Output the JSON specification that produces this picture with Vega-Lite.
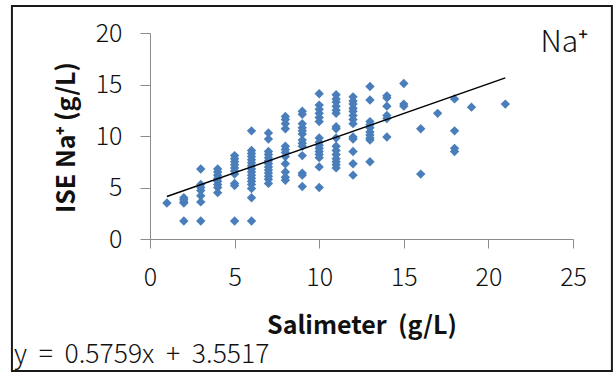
{
  "$schema": "https://vega.github.io/schema/vega-lite/v6.json",
  "width": 423,
  "height": 206,
  "autosize": {"type": "none"},
  "padding": {"left": 150, "top": 33, "right": 42, "bottom": 135},
  "background": "white",
  "config": {
    "view": {"stroke": null},
    "axis": {"grid": false, "labelFont": "Noto Sans CJK KR", "titleFont": "Noto Sans CJK KR", "labelColor": "#111", "titleColor": "#111", "domainColor": "#8c8c8c", "tickColor": "#8c8c8c", "labelFlush": false, "labelOverlap": false}
  },
  "datasets": {
    "pts": [
      {"x":1,"y":3.5},
      {"x":2,"y":4.0},{"x":2,"y":3.8},{"x":2,"y":3.6},{"x":2,"y":3.5},{"x":2,"y":1.75},
      {"x":3,"y":6.8},{"x":3,"y":5.3},{"x":3,"y":5.0},{"x":3,"y":4.7},{"x":3,"y":4.2},{"x":3,"y":3.6},{"x":3,"y":1.75},
      {"x":4,"y":6.8},{"x":4,"y":6.5},{"x":4,"y":6.2},{"x":4,"y":5.9},{"x":4,"y":5.6},{"x":4,"y":5.3},{"x":4,"y":5.0},{"x":4,"y":4.5},
      {"x":5,"y":8.1},{"x":5,"y":7.8},{"x":5,"y":7.5},{"x":5,"y":7.2},{"x":5,"y":6.9},{"x":5,"y":6.6},{"x":5,"y":6.3},{"x":5,"y":5.4},{"x":5,"y":5.2},{"x":5,"y":1.75},
      {"x":6,"y":10.5},{"x":6,"y":8.6},{"x":6,"y":8.3},{"x":6,"y":8.0},{"x":6,"y":7.7},{"x":6,"y":7.4},{"x":6,"y":7.1},{"x":6,"y":6.8},{"x":6,"y":6.5},{"x":6,"y":6.2},{"x":6,"y":5.9},{"x":6,"y":5.6},{"x":6,"y":5.3},{"x":6,"y":4.9},{"x":6,"y":4.0},{"x":6,"y":1.75},
      {"x":7,"y":10.3},{"x":7,"y":9.7},{"x":7,"y":8.5},{"x":7,"y":8.2},{"x":7,"y":7.9},{"x":7,"y":7.6},{"x":7,"y":7.3},{"x":7,"y":7.0},{"x":7,"y":6.7},{"x":7,"y":6.4},{"x":7,"y":6.1},{"x":7,"y":5.8},{"x":7,"y":5.4},
      {"x":8,"y":11.9},{"x":8,"y":11.6},{"x":8,"y":11.2},{"x":8,"y":10.7},{"x":8,"y":9.0},{"x":8,"y":8.7},{"x":8,"y":8.4},{"x":8,"y":8.0},{"x":8,"y":7.3},{"x":8,"y":6.5},{"x":8,"y":6.0},{"x":8,"y":5.7},
      {"x":9,"y":12.4},{"x":9,"y":12.1},{"x":9,"y":11.2},{"x":9,"y":10.8},{"x":9,"y":10.5},{"x":9,"y":10.2},{"x":9,"y":9.6},{"x":9,"y":9.3},{"x":9,"y":9.0},{"x":9,"y":8.1},{"x":9,"y":6.4},{"x":9,"y":6.2},{"x":9,"y":5.1},
      {"x":10,"y":14.1},{"x":10,"y":13.0},{"x":10,"y":12.6},{"x":10,"y":12.2},{"x":10,"y":11.8},{"x":10,"y":11.4},{"x":10,"y":9.8},{"x":10,"y":9.4},{"x":10,"y":9.1},{"x":10,"y":8.8},{"x":10,"y":8.5},{"x":10,"y":8.2},{"x":10,"y":7.9},{"x":10,"y":7.0},{"x":10,"y":5.0},
      {"x":11,"y":14.0},{"x":11,"y":13.6},{"x":11,"y":13.3},{"x":11,"y":12.9},{"x":11,"y":12.5},{"x":11,"y":12.2},{"x":11,"y":10.9},{"x":11,"y":10.7},{"x":11,"y":9.8},{"x":11,"y":9.0},{"x":11,"y":8.6},{"x":11,"y":8.2},{"x":11,"y":7.8},{"x":11,"y":7.5},{"x":11,"y":7.2},{"x":11,"y":6.9},
      {"x":12,"y":13.8},{"x":12,"y":13.4},{"x":12,"y":13.1},{"x":12,"y":12.7},{"x":12,"y":12.4},{"x":12,"y":12.0},{"x":12,"y":11.6},{"x":12,"y":11.2},{"x":12,"y":9.9},{"x":12,"y":9.7},{"x":12,"y":8.5},{"x":12,"y":7.3},{"x":12,"y":6.2},
      {"x":13,"y":14.8},{"x":13,"y":13.5},{"x":13,"y":11.4},{"x":13,"y":11.1},{"x":13,"y":10.8},{"x":13,"y":10.4},{"x":13,"y":10.1},{"x":13,"y":9.8},{"x":13,"y":9.6},{"x":13,"y":7.5},
      {"x":14,"y":13.9},{"x":14,"y":13.7},{"x":14,"y":12.9},{"x":14,"y":12.0},{"x":14,"y":11.7},{"x":14,"y":9.9},
      {"x":15,"y":15.1},{"x":15,"y":13.1},{"x":15,"y":12.9},
      {"x":16,"y":10.7},{"x":16,"y":6.3},
      {"x":17,"y":12.2},
      {"x":18,"y":13.6},{"x":18,"y":10.5},{"x":18,"y":8.8},{"x":18,"y":8.5},
      {"x":19,"y":12.8},
      {"x":21,"y":13.1}
    ],
    "trend": [{"x":1,"y":4.128},{"x":21,"y":15.646}],
    "frame": [{"x":-8.16,"x2":27.3,"y":22.62,"y2":-12.82}],
    "na": [{"x":25.9,"y":19.0,"t":"Na⁺"}],
    "eq": [{"x":-8.04,"y":-11.3,"t":"y\u00a0 =\u00a0 0.5759x\u00a0 +\u00a0 3.5517"}]
  },
  "encoding": {
    "x": {"field": "x", "type": "quantitative", "scale": {"domain": [0, 25], "nice": false, "zero": false},
      "axis": {"values": [0,5,10,15,20,25], "tickSize": 9, "labelPadding": 17, "labelFontSize": 25, "labelFontWeight": 300,
        "title": "Salimeter\u00a0 (g/L)", "titleFontSize": 25, "titleFontWeight": "bold", "titleY": 86, "titleBaseline": "middle"}},
    "y": {"field": "y", "type": "quantitative", "scale": {"domain": [0, 20], "nice": false, "zero": false},
      "axis": {"values": [0,5,10,15,20], "tickSize": 10, "labelPadding": 18, "labelFontSize": 25, "labelFontWeight": 300,
        "title": "ISE Na⁺ (g/L)", "titleFontSize": 25, "titleFontWeight": "bold", "titleX": -84, "titleY": 104, "titleBaseline": "middle"}}
  },
  "layer": [
    {"data": {"name": "frame"}, "mark": {"type": "rect", "fill": null, "stroke": "#1a1a1a", "strokeWidth": 2},
      "encoding": {"x2": {"field": "x2"}, "y2": {"field": "y2"}}},
    {"data": {"name": "pts"}, "mark": {"type": "point", "shape": "diamond", "filled": true, "color": "#4A7EBB", "opacity": 1, "size": 88}},
    {"data": {"name": "trend"}, "mark": {"type": "line", "color": "#000", "strokeWidth": 1.5}},
    {"data": {"name": "na"}, "mark": {"type": "text", "align": "right", "baseline": "middle", "font": "Noto Sans CJK KR", "fontWeight": 300, "fontSize": 30, "color": "#111"},
      "encoding": {"text": {"field": "t"}}},
    {"data": {"name": "eq"}, "mark": {"type": "text", "align": "left", "baseline": "middle", "font": "Noto Sans CJK KR", "fontWeight": 300, "fontSize": 26.5, "color": "#111"},
      "encoding": {"text": {"field": "t"}}}
  ]
}
